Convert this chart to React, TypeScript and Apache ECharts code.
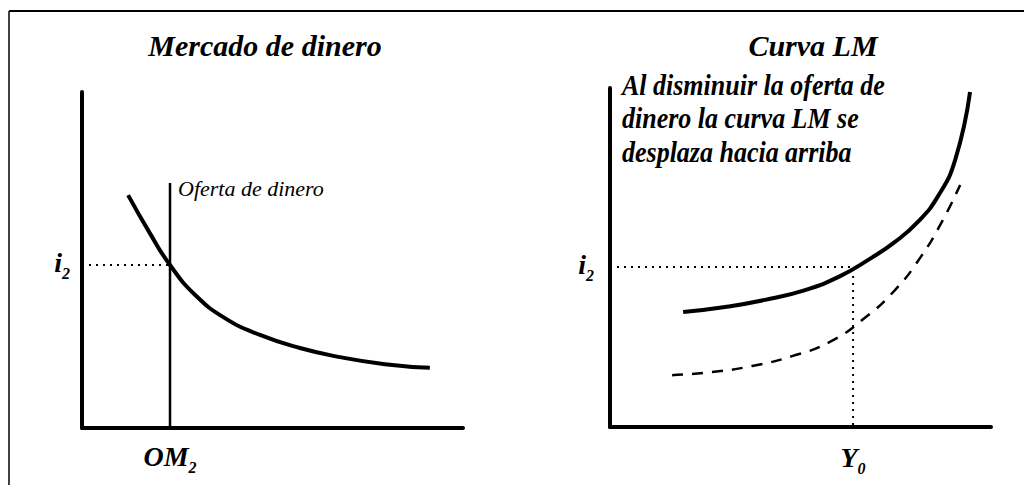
import React, { useEffect, useRef } from "react";
import * as echarts from "echarts";

// Left panel: money market (axis units 0..100)
const demandX = [12.1, 17.8, 23.1, 29.7, 37.5, 46.7, 57.2, 67.7, 79.5, 91.3];
const demandY = [69.3, 58.0, 48.5, 39.6, 32.7, 27.7, 23.8, 21.1, 19.0, 17.9];
const supplyX = 23.1;
const supplyTop = 72.9;
const i2Left = 48.5;

// Right panel: LM curve (axis units 0..100)
const lmX = [19.2, 30.2, 40.7, 51.2, 60.4, 68.2, 74.8, 80.8, 86.1, 90.6, 94.5];
const lmY = [33.9, 35.4, 37.5, 40.4, 44.5, 49.6, 54.6, 60.5, 68.1, 78.8, 98.8];
const lm2X = [16.3, 26.8, 37.3, 47.8, 57.7, 66.9, 74.8, 81.4, 87.1, 91.9];
const lm2Y = [15.3, 16.2, 18.0, 20.9, 25.1, 32.2, 40.4, 49.9, 60.5, 71.4];
const y0X = 63.8;
const i2Right = 47.2;

const titles = ["Mercado de dinero", "Curva LM"];
const supplyLabel = "Oferta de dinero";
const note = "Al disminuir la oferta de\ndinero la curva LM se\ndesplaza hacia arriba";

const FONT = "'Liberation Serif', 'Times New Roman', serif";

const rich = {
  b: {
    fontFamily: FONT,
    fontStyle: "italic",
    fontWeight: "bold",
    fontSize: 28,
    color: "#000",
    verticalAlign: "bottom",
    padding: [0, 0, 5, 0],
  },
  s: {
    fontFamily: FONT,
    fontStyle: "italic",
    fontWeight: "bold",
    fontSize: 16,
    color: "#000",
    verticalAlign: "bottom",
  },
};

const zip = (xs: number[], ys: number[]) => xs.map((x, i) => [x, ys[i]]);

export default function App() {
  const ref = useRef<HTMLDivElement>(null);
  useEffect(() => {
    const chart = echarts.init(ref.current!, null, { renderer: "svg" });
    const axisLine = { show: true, onZero: false, lineStyle: { color: "#000", width: 4 } };
    const baseAxis = {
      type: "value" as const,
      min: 0,
      max: 100,
      axisLine,
      axisTick: { show: false },
      splitLine: { show: false },
    };
    chart.setOption({
      animation: false,
      backgroundColor: "#fff",
      grid: [
        { left: 82, width: 381, top: 92, height: 336 },
        { left: 610, width: 381, top: 88, height: 339 },
      ],
      xAxis: [
        {
          ...baseAxis,
          gridIndex: 0,
          axisLabel: {
            customValues: [supplyX],
            margin: 14,
            formatter: () => "{b|OM}{s|2}",
            rich,
          },
        },
        {
          ...baseAxis,
          gridIndex: 1,
          axisLabel: {
            customValues: [y0X],
            margin: 16,
            formatter: () => "{b|Y}{s|0}",
            rich,
          },
        },
      ],
      yAxis: [
        {
          ...baseAxis,
          gridIndex: 0,
          axisLabel: {
            customValues: [i2Left],
            margin: 12,
            formatter: () => "{b|i}{s|2}",
            rich,
          },
        },
        {
          ...baseAxis,
          gridIndex: 1,
          axisLabel: {
            customValues: [i2Right],
            margin: 16,
            formatter: () => "{b|i}{s|2}",
            rich,
          },
        },
      ],
      series: [
        {
          type: "line",
          xAxisIndex: 0,
          yAxisIndex: 0,
          data: zip(demandX, demandY),
          smooth: 0.5,
          symbol: "none",
          lineStyle: { color: "#000", width: 4 },
        },
        {
          type: "line",
          xAxisIndex: 0,
          yAxisIndex: 0,
          data: [
            [supplyX, 0],
            [supplyX, supplyTop],
          ],
          symbol: "none",
          lineStyle: { color: "#000", width: 2.5 },
        },
        {
          type: "line",
          xAxisIndex: 0,
          yAxisIndex: 0,
          data: [
            [0, i2Left],
            [supplyX, i2Left],
          ],
          symbol: "none",
          lineStyle: { color: "#000", width: 2, type: [2, 5] },
        },
        {
          type: "line",
          xAxisIndex: 1,
          yAxisIndex: 1,
          data: zip(lmX, lmY),
          smooth: 0.5,
          symbol: "none",
          lineStyle: { color: "#000", width: 4 },
        },
        {
          type: "line",
          xAxisIndex: 1,
          yAxisIndex: 1,
          data: zip(lm2X, lm2Y),
          smooth: 0.5,
          symbol: "none",
          lineStyle: { color: "#000", width: 2.5, type: [11, 9] },
        },
        {
          type: "line",
          xAxisIndex: 1,
          yAxisIndex: 1,
          data: [
            [0, i2Right],
            [y0X, i2Right],
            [y0X, 0],
          ],
          symbol: "none",
          lineStyle: { color: "#000", width: 2, type: [2, 5] },
        },
      ],
      graphic: [
        { type: "line", shape: { x1: 9, y1: 11, x2: 1024, y2: 11 }, style: { stroke: "#000", lineWidth: 2 } },
        { type: "line", shape: { x1: 9, y1: 11, x2: 9, y2: 485 }, style: { stroke: "#000", lineWidth: 1.5 } },
        {
          type: "text",
          x: 265,
          y: 45,
          style: {
            text: titles[0],
            font: `italic bold 30px ${FONT}`,
            fill: "#000",
            textAlign: "center",
            textVerticalAlign: "middle",
          },
        },
        {
          type: "text",
          x: 813,
          y: 45,
          style: {
            text: titles[1],
            font: `italic bold 30px ${FONT}`,
            fill: "#000",
            textAlign: "center",
            textVerticalAlign: "middle",
          },
        },
        {
          type: "text",
          x: 178,
          y: 188,
          style: {
            text: supplyLabel,
            font: `italic 22px ${FONT}`,
            fill: "#000",
            textAlign: "left",
            textVerticalAlign: "middle",
          },
        },
        {
          type: "text",
          x: 622,
          y: 68,
          scaleY: 1.15,
          style: {
            text: note,
            font: `italic bold 26px ${FONT}`,
            lineHeight: 29,
            fill: "#000",
            textAlign: "left",
            textVerticalAlign: "top",
          },
        },
      ],
    });
    return () => chart.dispose();
  }, []);
  return (
    <div
      ref={ref}
      style={{ position: "fixed", left: 0, top: 0, width: 1024, height: 485, background: "#fff" }}
    />
  );
}
